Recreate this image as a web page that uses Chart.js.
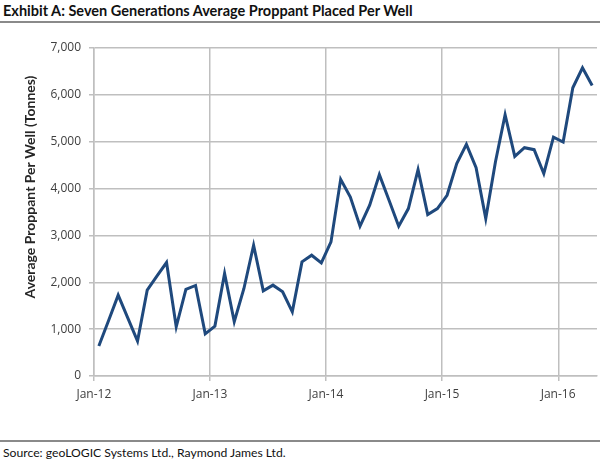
<!DOCTYPE html>
<html lang="en">
<head>
<meta charset="UTF-8">
<title>Exhibit A</title>
<script src="https://cdn.jsdelivr.net/npm/chart.js@4"></script>
<style>
  body { margin: 0; width: 600px; height: 463px; background: #fff; position: relative; overflow: hidden; font-family: Lato, sans-serif; }
  #title { position: absolute; left: 3px; top: 2px; font-size: 14.5px; font-weight: bold; color: #111; white-space: nowrap; }
  #topRule { position: absolute; left: 0; top: 21px; width: 600px; border-top: 2px solid #8a8a8a; }
  #wrap { position: absolute; left: 0; top: 22px; width: 600px; height: 418px; }
  #bottomRule { position: absolute; left: 0; top: 440px; width: 600px; border-top: 2px solid #8a8a8a; }
  #source { position: absolute; left: 3px; top: 445px; font-size: 12.2px; color: #111; white-space: nowrap; }
</style>
</head>
<body>
<div id="title">Exhibit A: Seven Generations Average Proppant Placed Per Well</div>
<div id="topRule"></div>
<div id="wrap"><canvas id="chart" width="600" height="418"></canvas></div>
<div id="bottomRule"></div>
<div id="source">Source: geoLOGIC Systems Ltd., Raymond James Ltd.</div>

<script>
// monthly series, Jan-12 .. Apr-16
const years = ['12', '13', '14', '15', '16'];
const monthNames = ['Jan', 'Feb', 'Mar', 'Apr', 'May', 'Jun', 'Jul', 'Aug', 'Sep', 'Oct', 'Nov', 'Dec'];
const proppant = [
  640, 1180, 1726, 1235, 745, 1833, 2130, 2422, 1051, 1847, 1932, 900,
  1065, 2188, 1158, 1868, 2791, 1818, 1939, 1797, 1370, 2436, 2578, 2414,
  2862, 4198, 3820, 3196, 3644, 4298, 3750, 3196, 3573, 4404, 3445, 3573,
  3857, 4532, 4943, 4447, 3360, 4566, 5576, 4688, 4873, 4830, 4319, 5099,
  4993, 6152, 6578, 6200
];
const yTicks = [0, 1000, 2000, 3000, 4000, 5000, 6000, 7000];
const yTitle = 'Average Proppant Per Well (Tonnes)';

const labels = [];
for (const y of years) {
  for (const m of monthNames) {
    if (labels.length < proppant.length) labels.push(m + '-' + y);
  }
}

const GRID = '#bfbfbf';
const TEXT = '#404040';

const yTitlePlugin = {
  id: 'yTitle',
  afterDraw(chart) {
    const { ctx, chartArea } = chart;
    ctx.save();
    ctx.translate(30, (chartArea.top + chartArea.bottom) / 2 - 25);
    ctx.rotate(-Math.PI / 2);
    ctx.font = 'bold 14px Lato';
    ctx.fillStyle = '#262626';
    ctx.textAlign = 'center';
    ctx.textBaseline = 'middle';
    ctx.fillText(yTitle, 0, 0);
    ctx.restore();
  }
};

new Chart(document.getElementById('chart'), {
  type: 'line',
  data: {
    labels,
    datasets: [{
      label: 'Average Proppant Per Well',
      data: proppant,
      borderColor: '#1f497d',
      borderWidth: 3,
      pointRadius: 0,
      tension: 0,
      fill: false
    }]
  },
  options: {
    responsive: false,
    animation: false,
    layout: { padding: { left: 0, right: 3, top: 26, bottom: 0 } },
    plugins: { legend: { display: false }, tooltip: { enabled: false } },
    scales: {
      x: {
        offset: true,
        afterFit: s => { s.height = 64; },
        grid: {
          offset: true,
          tickLength: 5,
          lineWidth: 1.5,
          color: c => (c.index % 12 === 0 || c.index === labels.length) ? GRID : 'rgba(0,0,0,0)',
          tickColor: c => (c.index % 12 === 0) ? GRID : 'rgba(0,0,0,0)'
        },
        border: { color: GRID, width: 1.5 },
        ticks: {
          autoSkip: false,
          maxRotation: 0,
          minRotation: 0,
          padding: 6,
          labelOffset: -5,
          color: TEXT,
          font: { family: 'Open Sans', size: 12 },
          callback: (v, i) => (i % 12 === 0 ? labels[i] : '')
        }
      },
      y: {
        min: 0,
        max: 7000,
        afterFit: s => { s.width = 94; },
        afterBuildTicks: s => { s.ticks = yTicks.map(v => ({ value: v })); },
        grid: { color: GRID, lineWidth: 1.5, tickLength: 5 },
        border: { color: GRID, width: 1.5 },
        ticks: {
          padding: 8,
          color: TEXT,
          font: { family: 'Open Sans', size: 12 },
          callback: v => v.toLocaleString('en-US')
        }
      }
    }
  },
  plugins: [yTitlePlugin]
});
</script>
</body>
</html>
